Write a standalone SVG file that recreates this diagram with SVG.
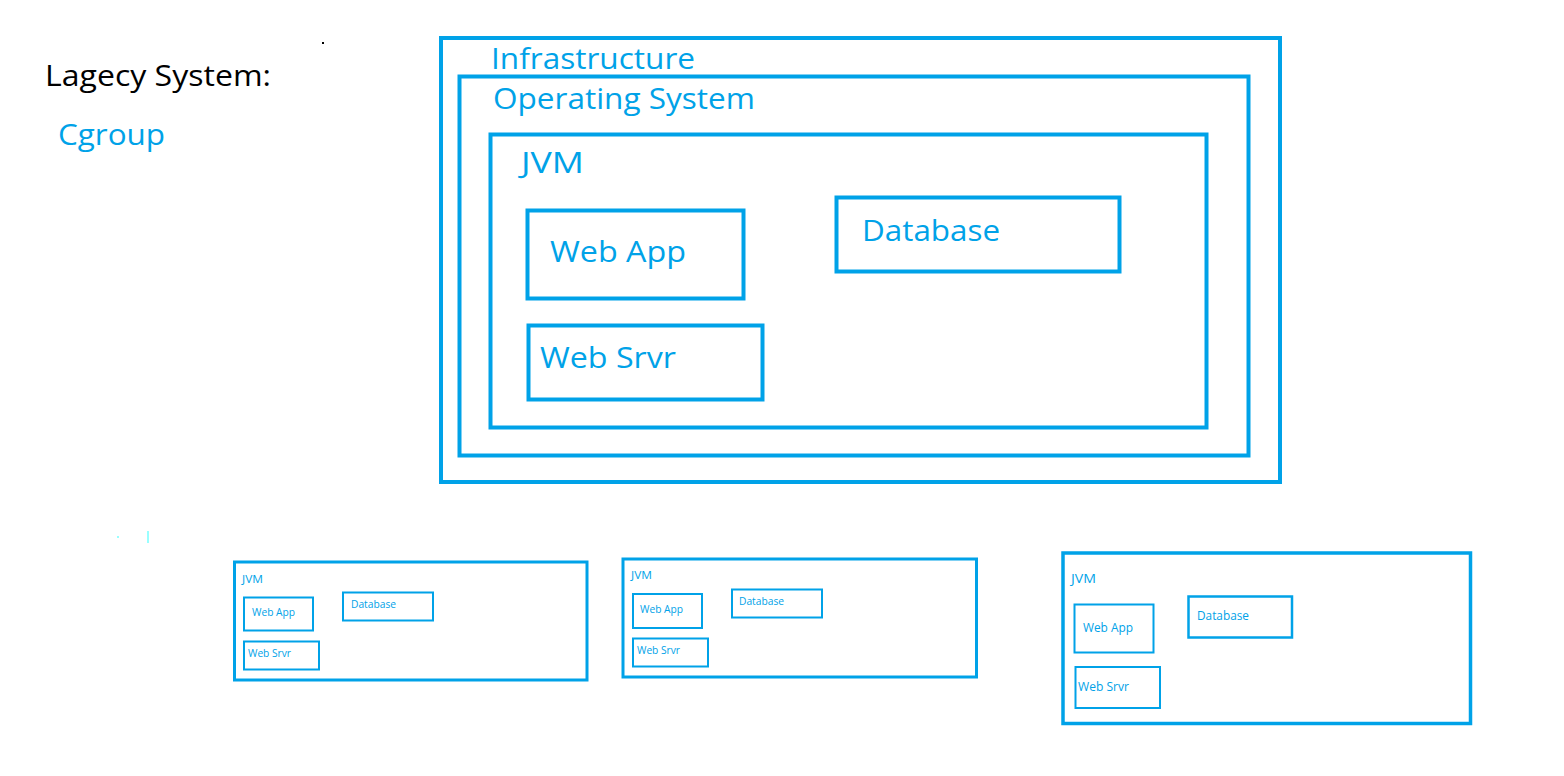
<svg xmlns="http://www.w3.org/2000/svg" width="1564" height="776" viewBox="0 0 1564 776">
<style>
.b{fill:none;stroke:#00A2E8}
.t{fill:#00A2E8;font-family:"Open Sans","Noto Sans",sans-serif}
.k{fill:#000;font-family:"Open Sans","Noto Sans",sans-serif}
</style>
<rect width="1564" height="776" fill="#fff"/>
<rect x="322" y="42" width="2" height="2" fill="#000"/>
<rect x="117" y="536" width="2" height="2" fill="#9ff"/>
<rect x="147" y="531" width="2" height="12" fill="#9ff"/>
<text class="k" x="45" y="86" font-size="30" textLength="226" lengthAdjust="spacingAndGlyphs">Lagecy System:</text>
<text class="t" x="58" y="145" font-size="30" textLength="107" lengthAdjust="spacingAndGlyphs">Cgroup</text>
<g id="infrastructure">
<rect class="b" x="441" y="38" width="839" height="444" stroke-width="4"/>
<text class="t" x="491" y="69" font-size="30" textLength="204" lengthAdjust="spacingAndGlyphs">Infrastructure</text>
</g>
<g id="os">
<rect class="b" x="459.5" y="76.5" width="789" height="379" stroke-width="4"/>
<text class="t" x="493" y="109" font-size="30" textLength="262" lengthAdjust="spacingAndGlyphs">Operating System</text>
</g>
<g id="jvm">
<rect class="b" x="490.5" y="134.5" width="716" height="293" stroke-width="4"/>
<text class="t" x="521" y="173" font-size="30" textLength="63" lengthAdjust="spacingAndGlyphs">JVM</text>
</g>
<g id="webapp">
<rect class="b" x="527.5" y="210.5" width="216" height="88" stroke-width="4"/>
<text class="t" x="550" y="262" font-size="30" textLength="136" lengthAdjust="spacingAndGlyphs">Web App</text>
</g>
<g id="database">
<rect class="b" x="836.5" y="197.5" width="283" height="74" stroke-width="4"/>
<text class="t" x="862" y="241" font-size="30" textLength="138" lengthAdjust="spacingAndGlyphs">Database</text>
</g>
<g id="websrvr">
<rect class="b" x="528.5" y="325.5" width="234" height="74" stroke-width="4"/>
<text class="t" x="540" y="368" font-size="30" textLength="136" lengthAdjust="spacingAndGlyphs">Web Srvr</text>
</g>
<g id="jvm1">
<rect class="b" x="234.5" y="562" width="352.5" height="118" stroke-width="3"/>
<text class="t" x="242" y="583" font-size="11" textLength="21" lengthAdjust="spacingAndGlyphs">JVM</text>
<rect class="b" x="244" y="597.5" width="69" height="33" stroke-width="2"/>
<text class="t" x="252" y="616" font-size="11" textLength="43" lengthAdjust="spacingAndGlyphs">Web App</text>
<rect class="b" x="343" y="592.5" width="90" height="28" stroke-width="2"/>
<text class="t" x="351" y="608" font-size="11" textLength="45" lengthAdjust="spacingAndGlyphs">Database</text>
<rect class="b" x="244" y="641.5" width="75" height="28" stroke-width="2"/>
<text class="t" x="248" y="657" font-size="11" textLength="43" lengthAdjust="spacingAndGlyphs">Web Srvr</text>
</g>
<g id="jvm2">
<rect class="b" x="623" y="559" width="353.5" height="118" stroke-width="3"/>
<text class="t" x="631" y="579" font-size="11" textLength="21" lengthAdjust="spacingAndGlyphs">JVM</text>
<rect class="b" x="633" y="594" width="69" height="34" stroke-width="2"/>
<text class="t" x="640" y="613" font-size="11" textLength="43" lengthAdjust="spacingAndGlyphs">Web App</text>
<rect class="b" x="732" y="589.5" width="90" height="28" stroke-width="2"/>
<text class="t" x="739" y="605" font-size="11" textLength="45" lengthAdjust="spacingAndGlyphs">Database</text>
<rect class="b" x="633" y="638.5" width="75" height="28" stroke-width="2"/>
<text class="t" x="637" y="654" font-size="11" textLength="43" lengthAdjust="spacingAndGlyphs">Web Srvr</text>
</g>
<g id="jvm3">
<rect class="b" x="1063" y="553" width="407.5" height="170.5" stroke-width="3.5"/>
<text class="t" x="1071" y="583" font-size="13" textLength="25" lengthAdjust="spacingAndGlyphs">JVM</text>
<rect class="b" x="1074.5" y="604.5" width="79" height="48" stroke-width="2"/>
<text class="t" x="1083" y="632" font-size="13" textLength="50" lengthAdjust="spacingAndGlyphs">Web App</text>
<rect class="b" x="1188.5" y="596.5" width="103.5" height="41" stroke-width="2.5"/>
<text class="t" x="1197" y="620" font-size="13" textLength="52" lengthAdjust="spacingAndGlyphs">Database</text>
<rect class="b" x="1075.5" y="667" width="84.5" height="41" stroke-width="2"/>
<text class="t" x="1078" y="691" font-size="13" textLength="51" lengthAdjust="spacingAndGlyphs">Web Srvr</text>
</g>
</svg>
